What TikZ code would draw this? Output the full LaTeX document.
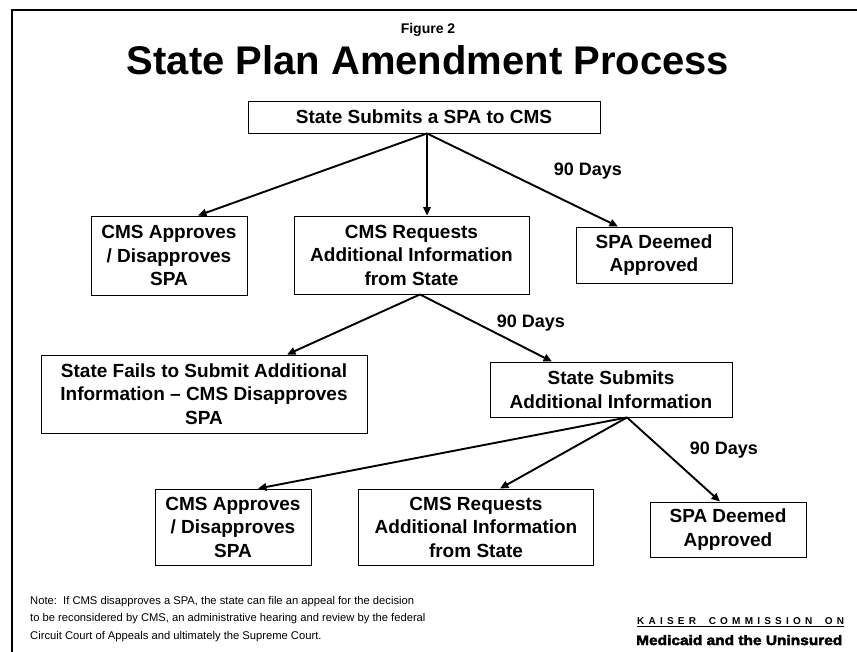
\documentclass[tikz,border=0pt]{standalone}
\usepackage{fontspec}
\setmainfont{Liberation Sans}
\newfontfamily\blackfont{Liberation Sans}[FakeStretch=1.12, BoldFeatures={FakeBold=3}]
\usetikzlibrary{arrows.meta}
\begin{document}
\begin{tikzpicture}[x=1pt,y=-1pt,
  box/.style={draw=black, line width=0.9pt, fill=white, align=center, inner sep=0pt,
    font=\fontsize{19}{23.5}\selectfont\bfseries},
  arr/.style={-{Triangle[length=8.5pt,width=7.5pt]}, line width=1.9pt},
  lab/.style={font=\fontsize{18}{18}\selectfont\bfseries, inner sep=0pt}]
\useasboundingbox (0,0) rectangle (857,652);
\fill[white] (0,0) rectangle (857,652);
\draw[line width=2pt] (12,652) -- (12,10) -- (857,10);

\node[font=\fontsize{14}{14}\selectfont\bfseries] (fig) at (428,30) {Figure 2};
\node[font=\fontsize{40}{40}\selectfont\bfseries] (title) at (428,60) {State Plan Amendment Process};

\node[box, minimum width=352pt, minimum height=32pt] (s0) at (424,117) {State Submits a SPA to CMS};

\node[box, minimum width=156pt, minimum height=79pt] (a1) at (169,255.5) {CMS Approves\\/ Disapproves\\SPA};
\node[box, minimum width=235pt, minimum height=78pt] (r1) at (411.5,255) {CMS Requests\\Additional Information\\from State};
\node[box, minimum width=156pt, minimum height=56pt] (d1) at (654,255) {SPA Deemed\\Approved};

\node[box, minimum width=326pt, minimum height=78pt] (f2) at (204,394) {State Fails to Submit Additional\\Information -- CMS Disapproves\\SPA};
\node[box, minimum width=242pt, minimum height=55pt] (s2) at (611,389.5) {State Submits\\Additional Information};

\node[box, minimum width=156pt, minimum height=76pt] (a3) at (233,527) {CMS Approves\\/ Disapproves\\SPA};
\node[box, minimum width=235pt, minimum height=76pt] (r3) at (476,527) {CMS Requests\\Additional Information\\from State};
\node[box, minimum width=156pt, minimum height=55pt] (d3) at (728,529.5) {SPA Deemed\\Approved};

\draw[arr] ([xshift=3pt]s0.south) -- ([xshift=29pt]a1.north);
\draw[arr] ([xshift=3pt]s0.south) -- ([xshift=15.5pt]r1.north);
\draw[arr] ([xshift=3pt]s0.south) -- ([xshift=-36pt]d1.north);
\node[lab] (l1) at (588,171) {90 Days};

\draw[arr] ([xshift=8.5pt]r1.south) -- ([xshift=83pt]f2.north);
\draw[arr] ([xshift=8.5pt]r1.south) -- ([xshift=-59pt]s2.north);
\node[lab] (l2) at (531,323) {90 Days};

\draw[arr] ([xshift=16pt]s2.south) -- ([xshift=25pt]a3.north);
\draw[arr] ([xshift=16pt]s2.south) -- ([xshift=24pt]r3.north);
\draw[arr] ([xshift=16pt]s2.south) -- ([xshift=-8pt]d3.north);
\node[lab] (l3) at (724,450) {90 Days};

\node[anchor=north west, align=left, inner sep=0pt, font=\fontsize{11.2}{17.5}\selectfont] (note) at (30,596)
  {Note:\ \ If CMS disapproves a SPA, the state can file an appeal for the decision\\
   to be reconsidered by CMS, an administrative hearing and review by the federal\\
   Circuit Court of Appeals and ultimately the Supreme Court.};

\node[anchor=base west, inner sep=0pt, font=\fontsize{10}{10}\selectfont\bfseries] (k) at (637,624)
  {\hbox to 207pt{K\hfil A\hfil I\hfil S\hfil E\hfil R\hfil\hfil\hfil C\hfil O\hfil M\hfil M\hfil I\hfil S\hfil S\hfil I\hfil O\hfil N\hfil\hfil\hfil O\hfil N}};
\draw[line width=0.9pt] ([yshift=-2pt]k.south west) -- ([yshift=-2pt]k.south east);
\node[anchor=base west, inner sep=0pt, font=\blackfont\bfseries\fontsize{13.8}{14}\selectfont] (m) at (636,645)
  {Medicaid and the Uninsured};
\end{tikzpicture}
\end{document}
